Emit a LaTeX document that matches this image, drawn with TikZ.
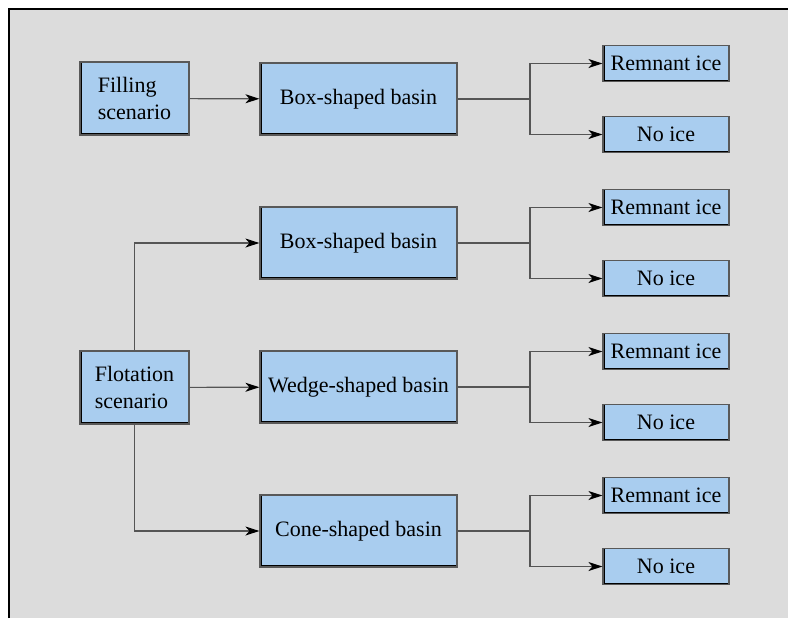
\documentclass[tikz,border=0pt]{standalone}
\usepackage{fontspec}
\setmainfont{Liberation Serif}
\usetikzlibrary{arrows.meta}
\definecolor{boxblue}{RGB}{169,205,239}
\definecolor{panelgray}{RGB}{220,220,220}
\definecolor{linkgray}{RGB}{85,85,85}
\tikzset{
  cell/.style={draw=black!65,line width=.6pt,fill=boxblue,inner sep=0pt,
    font=\fontsize{11}{13.5}\selectfont,
    path picture={\draw[black,line width=1.6pt]
      (path picture bounding box.north west)--(path picture bounding box.south west)
      --(path picture bounding box.south east);}},
  scen/.style={cell,minimum width=54.5pt,minimum height=36.5pt,align=left},
  basin/.style={cell,minimum width=98.5pt,minimum height=36pt},
  outc/.style={cell,minimum width=63pt,minimum height=18pt},
  link/.style={draw=linkgray,line width=.6pt},
  tip/.style={-{Stealth[length=7pt,width=4.5pt,inset=2pt,black]}}
}
\begin{document}
\begin{tikzpicture}[x=.5pt,y=-.5pt]
\useasboundingbox (0,0) rectangle (788,618);
\fill[panelgray] (9,9) rectangle (788,618);
\draw[line width=1pt] (9,618)--(9,9)--(788,9);
% scenarios
\node[scen] (fillsc) at (134.5,98.5) {Filling\\scenario};
\node[scen] (flotsc) at (134.5,387.5) {Flotation\\scenario};
% basins and outcomes
\foreach \n/\y/\t in {A/99/Box-shaped basin,B/243/Box-shaped basin,
    C/387/Wedge-shaped basin,D/531/Cone-shaped basin}{
  \node[basin] (basin\n) at (358.5,\y) {\t};
  \node[outc] (rem\n) at (666,\y-35.5) {Remnant ice};
  \node[outc] (no\n) at (666,\y+35.5) {No ice};
  \coordinate (split\n) at (530,\y);
  \draw[link] (basin\n.east)--(split\n);
  \draw[link,tip] (split\n) |- (rem\n.west);
  \draw[link,tip] (split\n) |- (no\n.west);
}
\draw[link,tip] (fillsc)--(basinA);
\draw[link,tip] (flotsc.north) |- (basinB.west);
\draw[link,tip] (flotsc)--(basinC);
\draw[link,tip] (flotsc.south) |- (basinD.west);
\end{tikzpicture}
\end{document}
